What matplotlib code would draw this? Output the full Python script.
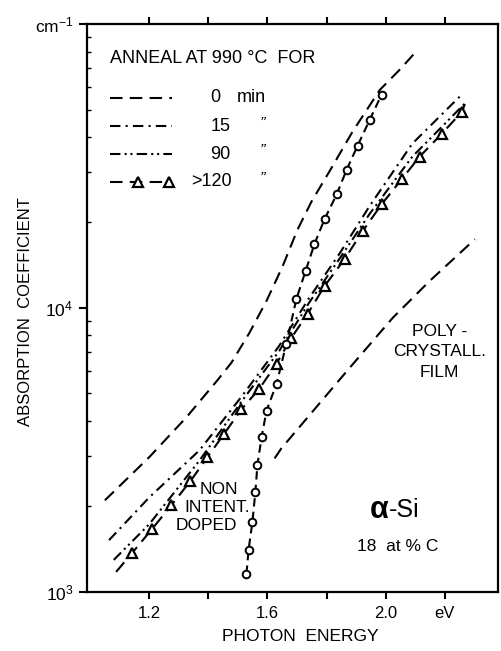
import matplotlib
matplotlib.use("Agg")
import matplotlib.pyplot as plt
from matplotlib.lines import Line2D
import numpy as np

plt.rcParams['font.family'] = ['Liberation Sans', 'DejaVu Sans']
plt.rcParams['mathtext.fontset'] = 'custom'
plt.rcParams['mathtext.rm'] = 'Liberation Sans'
plt.rcParams['mathtext.it'] = 'Liberation Sans:italic'

# photon energy (eV) vs absorption coefficient (cm^-1)
# 0 min anneal
e_0min = [1.05, 1.20, 1.325, 1.43, 1.478, 1.539, 1.597, 1.651, 1.702, 1.749,
          1.81, 1.888, 1.98, 2.047, 2.108]
a_0min = [2100, 2980, 4110, 5550, 6410, 8170, 10600, 14000, 18900, 23700,
          30300, 41800, 58600, 69000, 81100]
# 15 min anneal
e_15 = [1.064, 1.20, 1.37, 1.515, 1.64, 1.74, 1.845, 1.945, 2.09, 2.26]
a_15 = [1520, 2150, 3150, 4910, 7360, 10800, 15600, 22800, 37900, 56800]
# 90 min anneal
e_90 = [1.08, 1.20, 1.37, 1.515, 1.64, 1.74, 1.845, 1.945, 2.09, 2.27]
a_90 = [1295, 1730, 2900, 4720, 7060, 10400, 14970, 21400, 34100, 52800]
# >120 min anneal (triangles), with the line ends
e_120_ends = [1.088, 2.268]
a_120_ends = [1175, 52300]
e_120 = [1.142, 1.210, 1.275, 1.339, 1.397, 1.454, 1.512, 1.573, 1.631, 1.681,
         1.736, 1.793, 1.861, 1.922, 1.986, 2.054, 2.115, 2.190, 2.258]
a_120 = [1370, 1665, 2020, 2450, 2980, 3610, 4390, 5200, 6370, 7850,
         9530, 11940, 14860, 18630, 23170, 28380, 34140, 41100, 49100]
# non intentionally doped (circles)
e_nid = [1.529, 1.536, 1.549, 1.559, 1.566, 1.580, 1.597, 1.631, 1.664,
         1.698, 1.729, 1.759, 1.793, 1.834, 1.868, 1.905, 1.946, 1.986]
a_nid = [1157, 1404, 1760, 2245, 2790, 3500, 4350, 5410, 7480,
         10770, 13490, 16790, 20530, 25100, 30700, 37300, 46000, 56400]
# polycrystalline film
e_poly = [1.624, 1.647, 1.878, 2.024, 2.149, 2.302]
a_poly = [2950, 3200, 6150, 9230, 12450, 17460]

x_ticks = [1.2, 1.4, 1.6, 1.8, 2.0, 2.2]
x_labels = ['1.2', '', '1.6', '', '2.0', 'eV']
y_ticks = [1e3, 1e4, 1e5]
y_labels = ['10$^3$', '10$^4$', 'cm$^{-1}$']

dash = (0, (6, 3.5))
dash_dot = (0, (5, 2.5, 1, 2.5))
dash_dot_dot = (0, (5, 2, 1, 1.8, 1, 2))
lw = 1.5

fig = plt.figure(figsize=(5.01, 6.51), dpi=100)
ax = fig.add_axes([0.174, 0.091, 0.820, 0.872])
ax.set_yscale('log')
ax.set_xlim(0.99, 2.38)
ax.set_ylim(1e3, 1e5)

ax.plot(e_0min, a_0min, color='k', lw=lw, linestyle=dash)
ax.plot(e_15, a_15, color='k', lw=lw, linestyle=dash_dot)
ax.plot(e_90, a_90, color='k', lw=lw, linestyle=dash_dot_dot)
e_line = [e_120_ends[0]] + e_120 + [e_120_ends[1]]
a_line = [a_120_ends[0]] + a_120 + [a_120_ends[1]]
ax.plot(e_line, a_line, color='k', lw=lw, linestyle=dash)
ax.plot(e_120, a_120, linestyle='none', marker='^', ms=6.5, mew=1.6,
        mfc='white', mec='k')
ax.plot(e_nid, a_nid, color='k', lw=lw, linestyle=(0, (4, 2.5)),
        marker='o', ms=5.5, mew=1.4, mfc='white', mec='k')
ax.plot(e_poly, a_poly, color='k', lw=lw, linestyle=dash)

for s in ax.spines.values():
    s.set_linewidth(1.6)

ax.set_xticks(x_ticks)
ax.set_xticklabels(x_labels)
ax.set_yticks(y_ticks)
ax.set_yticklabels(y_labels)
ax.tick_params(axis='x', which='major', direction='out', length=5, width=1.5,
               top=True, labelsize=12, pad=5)
ax.tick_params(axis='x', which='minor', bottom=False, top=False)
ax.tick_params(axis='y', which='major', direction='out', length=6, width=1.5,
               right=False, labelsize=12.5, pad=4)
ax.tick_params(axis='y', which='minor', direction='in', length=3, width=1,
               right=False, labelleft=False)

fig.text(0.050, 0.522, 'ABSORPTION  COEFFICIENT', rotation=90,
         ha='center', va='center', fontsize=12)
fig.text(0.599, 0.022, 'PHOTON  ENERGY', ha='center', va='center', fontsize=12.5)

# legend, drawn by hand
T = ax.transAxes
ax.text(0.056, 0.940, 'ANNEAL AT 990 \u00b0C  FOR', transform=T,
        ha='left', va='center', fontsize=13)
hx = [0.056, 0.207]
styles = [dash, dash_dot, dash_dot_dot, dash]
hy = [0.870, 0.820, 0.771, 0.722]
for st, yy in zip(styles, hy):
    ax.add_line(Line2D(hx, [yy, yy], transform=T, color='k', lw=lw, linestyle=st))
ax.add_line(Line2D([0.124, 0.199], [0.722, 0.722], transform=T, linestyle='none',
                   marker='^', ms=6.5, mew=1.6, mfc='white', mec='k'))
ax.text(0.311, 0.870, '0', transform=T, ha='center', va='center', fontsize=13)
ax.text(0.365, 0.870, 'min', transform=T, ha='left', va='center', fontsize=13)
ax.text(0.348, 0.820, '15', transform=T, ha='right', va='center', fontsize=13)
ax.text(0.348, 0.771, '90', transform=T, ha='right', va='center', fontsize=13)
ax.text(0.353, 0.722, '>120', transform=T, ha='right', va='center', fontsize=13)
for yy in hy[1:]:
    ax.text(0.426, yy + 0.004, '\u201d', transform=T, ha='center', va='center',
            fontsize=12, style='italic')

ax.text(0.857, 0.423, 'POLY -\nCRYSTALL.\nFILM', transform=T, ha='center',
        va='center', fontsize=12.5, linespacing=1.45)
ax.text(0.367, 0.181, 'NON', transform=T, ha='right', va='center', fontsize=12.5)
ax.text(0.397, 0.148, 'INTENT.', transform=T, ha='right', va='center', fontsize=12.5)
ax.text(0.365, 0.116, 'DOPED', transform=T, ha='right', va='center', fontsize=12.5)

ax.text(0.710, 0.144, '\u03b1', transform=T, ha='center', va='center',
        fontsize=22, fontweight='bold')
ax.text(0.735, 0.144, '-Si', transform=T, ha='left', va='center', fontsize=18)
ax.text(0.757, 0.079, '18  at % C', transform=T, ha='center', va='center',
        fontsize=12.5)

fig.savefig('out.png', dpi=100)
